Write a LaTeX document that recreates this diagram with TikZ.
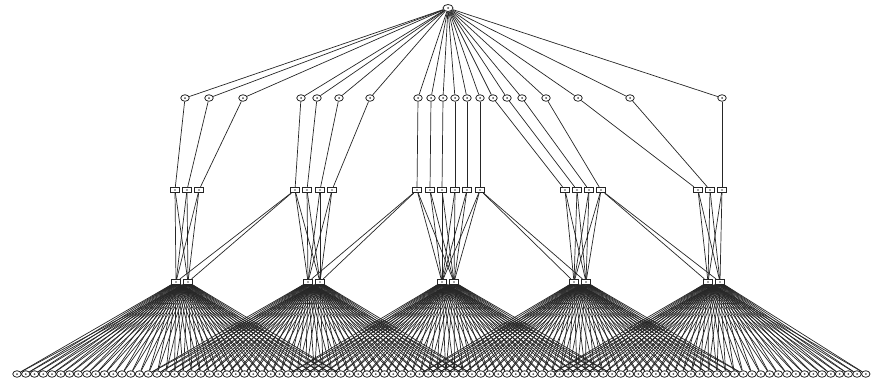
\documentclass[tikz,border=0pt]{standalone}
\usetikzlibrary{shapes.geometric}
\pgfdeclarelayer{background}
\pgfsetlayers{background,main}
\begin{document}
\begin{tikzpicture}[x=1pt,y=-1pt,
  nd/.style={ellipse,draw=black!85,fill=white,line width=0.8pt,inner sep=0pt,minimum width=8.5pt,minimum height=6.5pt,
    path picture={\fill[black!70] (path picture bounding box.center) circle (1pt);}},
  topnd/.style={nd,minimum width=10pt,minimum height=7pt},
  boxnd/.style={rectangle,draw=black!85,fill=white,line width=0.8pt,inner sep=0pt,minimum width=9pt,minimum height=5.5pt,
    path picture={\fill[black!70] (path picture bounding box.center) circle (0.9pt);}},
  edge/.style={draw=black!85,line width=0.7pt}]
\useasboundingbox (0,0) rectangle (880,381);
% top
\node[topnd] (top) at (448,8) {};
% level 1
\foreach \x [count=\i] in {185,209,243,301,317,339,370,418,431,443,455,467,480,493,507,522,546,578,630,722}
  \node[nd] (a\i) at (\x,98) {};
% level 2
\foreach \x [count=\i] in {175,187,199,295,307,320,332,417,430,442,455,467,480,565,577,589,601,698,710,722}
  \node[boxnd] (b\i) at (\x,190) {};
% hubs
\foreach \c [count=\k] in {182,314,448,580,714}{
  \node[boxnd] (h\k a) at (\c-6,282) {};
  \node[boxnd] (h\k b) at (\c+6,282) {};
}
% leaves
\foreach \i in {1,...,98}
  \node[nd] (l\i) at ({17+(\i-1)*8.75},374) {};
\begin{pgfonlayer}{background}
% top to level 1
\foreach \i in {1,...,20} \draw[edge] (top) -- (a\i);
% level 1 to level 2
\foreach \i in {1,...,20} \draw[edge] (a\i) -- (b\i);
% level 2 to hubs
\foreach \k/\from/\to in {1/1/3,2/4/7,3/8/13,4/14/17,5/18/20}{
  \foreach \i in {\from,...,\to}{
    \draw[edge] (b\i) -- (h\k a);
    \draw[edge] (b\i) -- (h\k b);
  }
}
% cross links
\foreach \i/\k in {4/1,8/2,13/4,17/5}{
  \draw[edge] (b\i) -- (h\k a);
  \draw[edge] (b\i) -- (h\k b);
}
% hubs to leaves
\foreach \c [count=\k] in {182,314,448,580,714}{
  \foreach \i in {1,...,98}{
    \pgfmathsetmacro\dd{abs(17+(\i-1)*8.75-\c)}
    \ifdim\dd pt<166pt
      \draw[edge] (h\k a) -- (l\i);
      \draw[edge] (h\k b) -- (l\i);
    \fi
  }
}
\end{pgfonlayer}
\end{tikzpicture}
\end{document}
